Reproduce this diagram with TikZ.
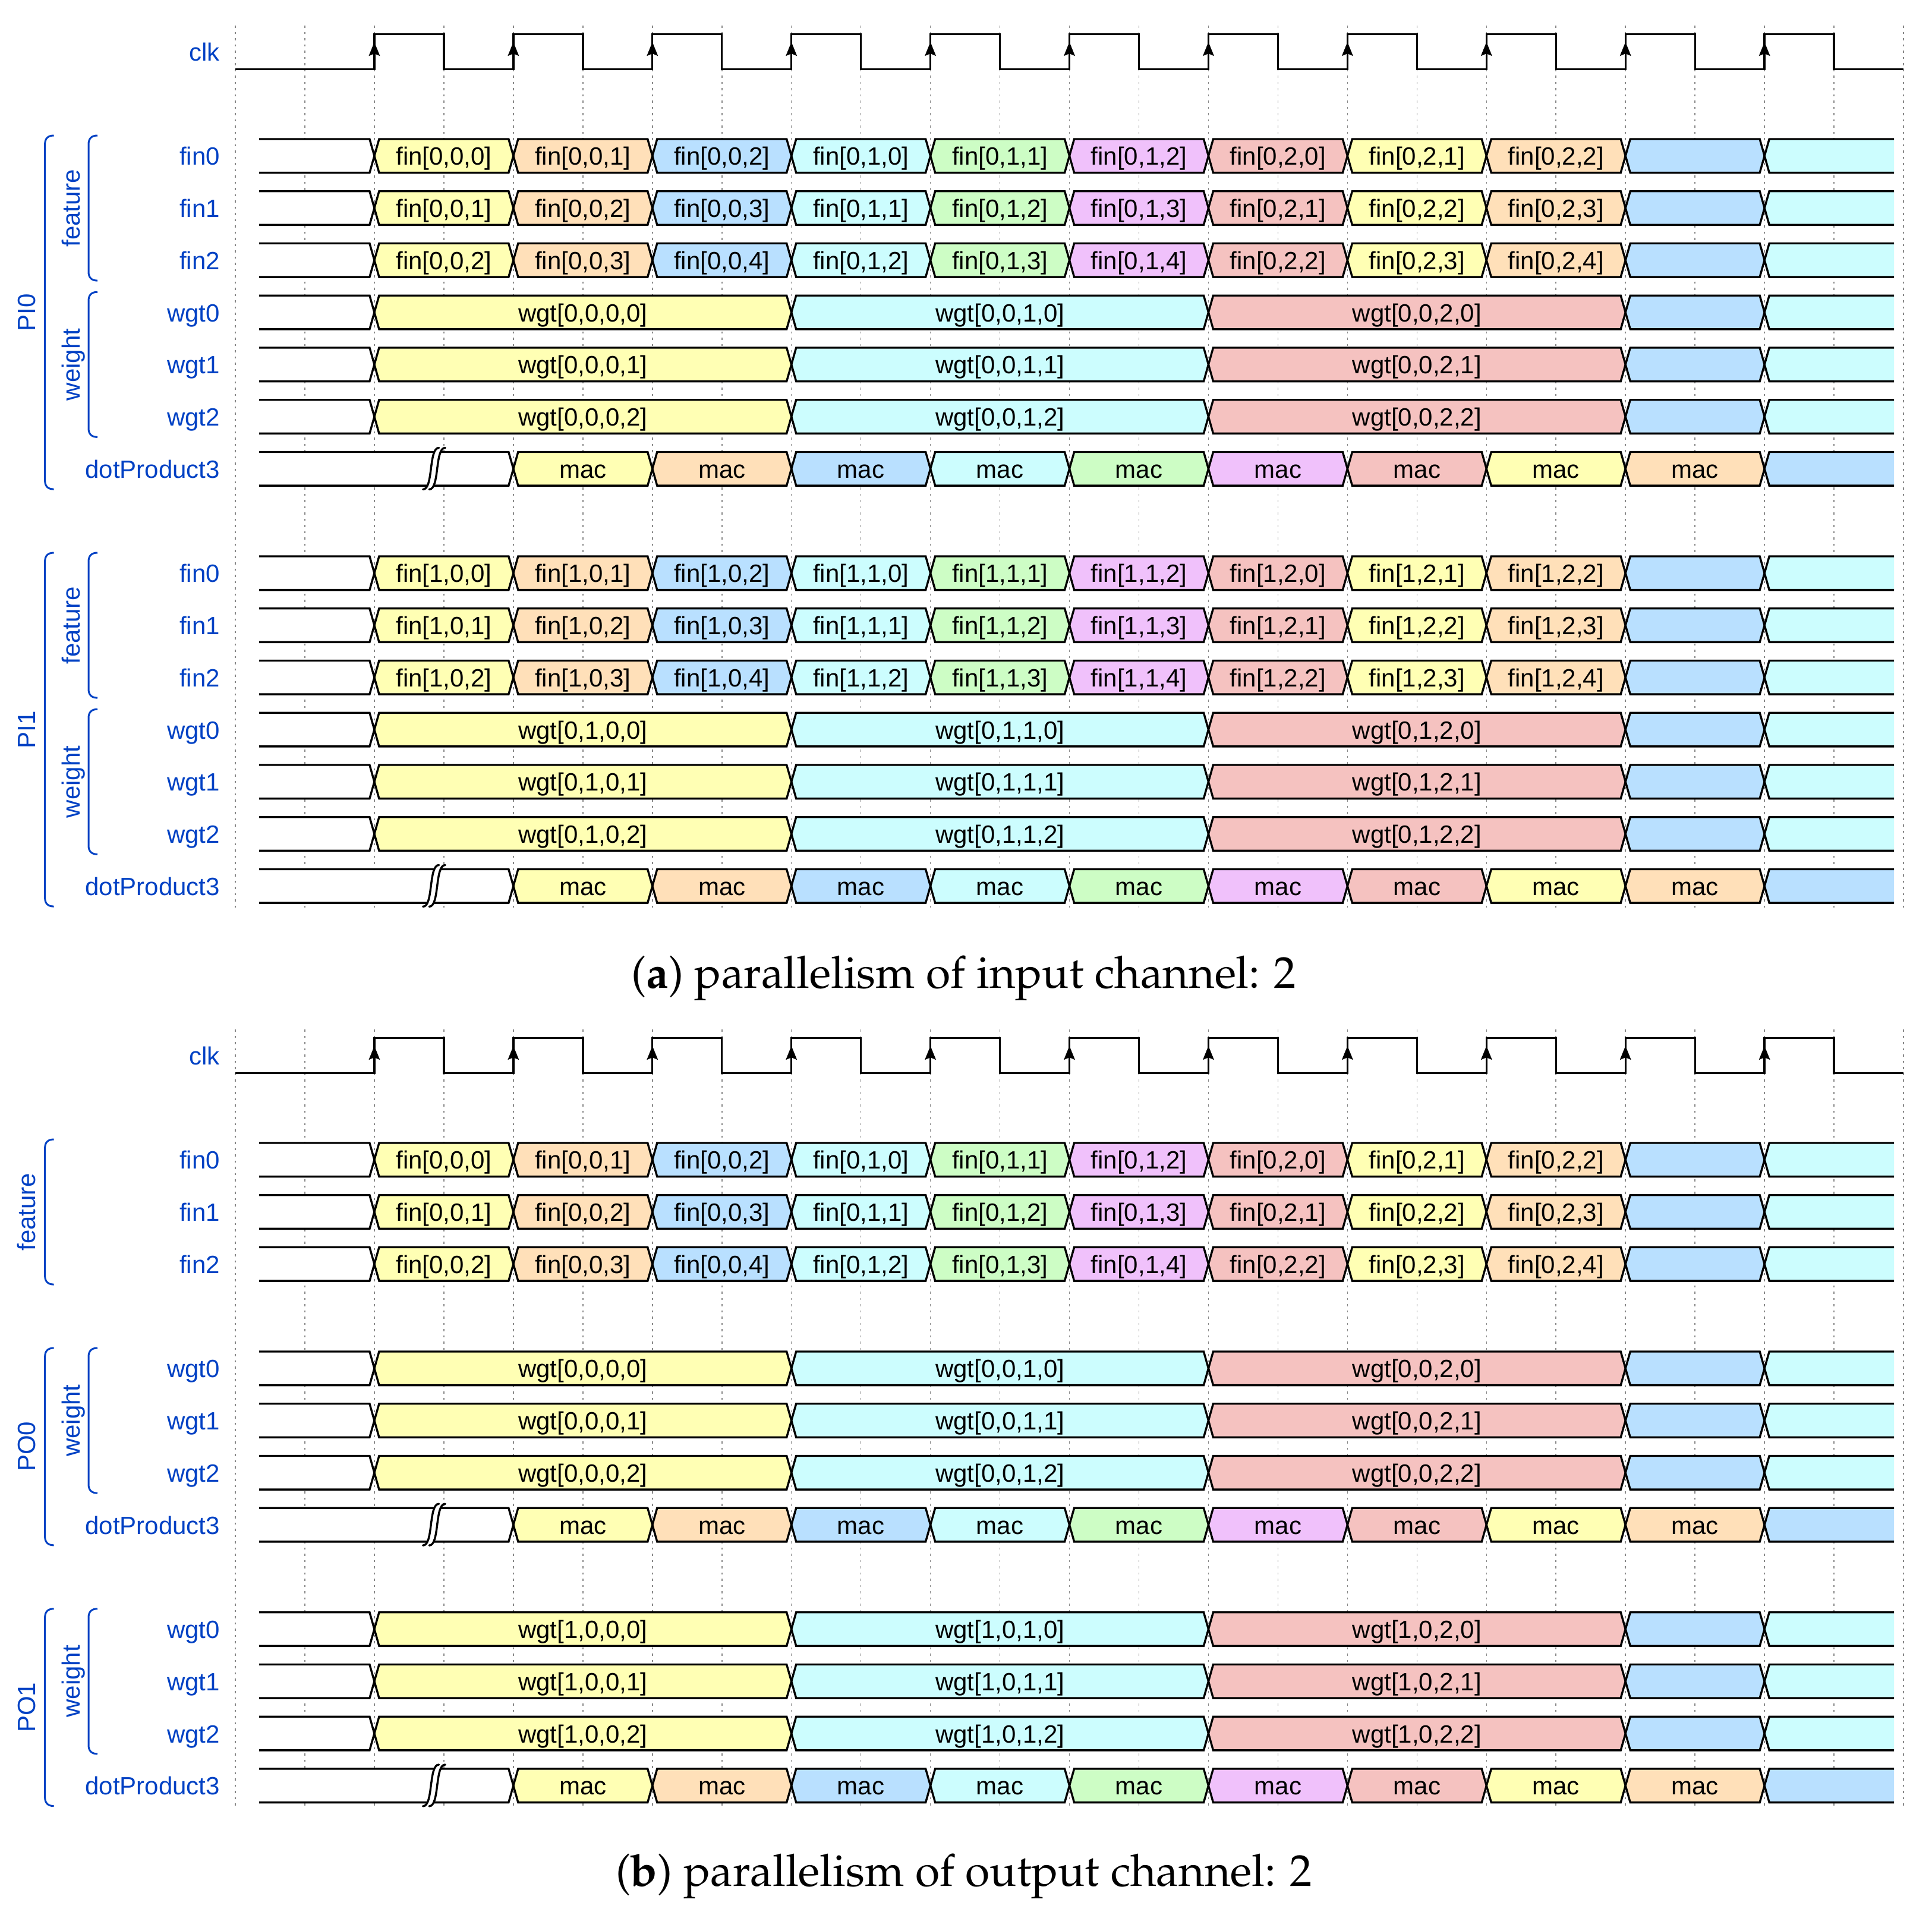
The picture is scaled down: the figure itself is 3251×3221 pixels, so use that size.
\documentclass[tikz,border=0pt]{standalone}
\usepackage[T1,TU]{fontenc}
\usepackage{fontspec}
\setmainfont{Liberation Sans}
\newfontfamily\wdfont{Liberation Sans}
\definecolor{wdY}{HTML}{FFFFB4}
\definecolor{wdO}{HTML}{FFE0B9}
\definecolor{wdB}{HTML}{B9E0FF}
\definecolor{wdC}{HTML}{CCFDFE}
\definecolor{wdG}{HTML}{CDFDC5}
\definecolor{wdP}{HTML}{F0C1FB}
\definecolor{wdR}{HTML}{F5C2C0}
\definecolor{wdblue}{HTML}{0041C4}
\definecolor{wdgrid}{HTML}{888888}
\pgfdeclarelayer{bglayer}
\pgfdeclarelayer{gridlayer}
\pgfdeclarelayer{filllayer}
\pgfsetlayers{bglayer,gridlayer,filllayer,main}
\newcommand\capfont{\fontencoding{T1}\fontfamily{ppl}\fontseries{m}\fontshape{n}\fontsize{75}{90}\selectfont}
\newcount\wdn
% data segment: kstart kend yc colour text
\newcommand\dseg[5]{%
  \pgfmathsetmacro\xs{396+116.96*(#1)}%
  \pgfmathsetmacro\xe{396+116.96*(#2)}%
  \pgfmathsetmacro\yt{#3-28.3}%
  \pgfmathsetmacro\yb{#3+28.3}%
  \begin{pgfonlayer}{filllayer}
  \fill[fill=#4] (\xs,#3) -- ({\xs+8},\yt) -- ({\xe-8},\yt) -- (\xe,#3) -- ({\xe-8},\yb) -- ({\xs+8},\yb) -- cycle;
  \end{pgfonlayer}
  \draw[sig] (\xs,#3) -- ({\xs+8},\yt) -- ({\xe-8},\yt) -- (\xe,#3) -- ({\xe-8},\yb) -- ({\xs+8},\yb) -- cycle;
  \global\advance\wdn by 1
  \node[dtext] (dt\the\wdn) at ({(\xs+\xe)/2},{#3+15.5}) {#5};
}
% first (empty) segment: kend yc
\newcommand\startseg[2]{%
  \pgfmathsetmacro\xe{396+116.96*(#1)}%
  \pgfmathsetmacro\yt{#2-28.3}%
  \pgfmathsetmacro\yb{#2+28.3}%
  \begin{pgfonlayer}{filllayer}
  \fill[white] (436,\yt) -- ({\xe-8},\yt) -- (\xe,#2) -- ({\xe-8},\yb) -- (436,\yb) -- cycle;
  \end{pgfonlayer}
  \draw[sig] (436,\yt) -- ({\xe-8},\yt) -- (\xe,#2) -- ({\xe-8},\yb) -- (436,\yb);
}
% last open segment: kstart yc colour
\newcommand\lastseg[3]{%
  \pgfmathsetmacro\xs{396+116.96*(#1)}%
  \pgfmathsetmacro\yt{#2-28.3}%
  \pgfmathsetmacro\yb{#2+28.3}%
  \begin{pgfonlayer}{filllayer}
  \fill[fill=#3] (\xs,#2) -- ({\xs+8},\yt) -- (3187,\yt) -- (3187,\yb) -- ({\xs+8},\yb) -- cycle;
  \end{pgfonlayer}
  \draw[sig] (3187,\yt) -- ({\xs+8},\yt) -- (\xs,#2) -- ({\xs+8},\yb) -- (3187,\yb);
}
% gap mark: yc
\newcommand\gapmark[1]{%
  \pgfmathsetmacro\gb{#1+34.6}%
  \pgfmathsetmacro\gm{#1-0.4}%
  \pgfmathsetmacro\gt{#1-35.4}%
  \pgfmathsetmacro\gq{#1+17.1}%
  \pgfmathsetmacro\gr{#1-17.9}%
  \fill[white] (711.7,\gb) .. controls (720.7,\gb) and (722.95,\gq) .. (725.2,\gm) .. controls (727.45,\gr) and (729.7,\gt) .. (738.7,\gt) -- (749.2,\gt) .. controls (740.2,\gt) and (737.95,\gr) .. (735.7,\gm) .. controls (733.45,\gq) and (731.2,\gb) .. (722.2,\gb) -- cycle;
  \draw[sig,line cap=round] (711.7,\gb) .. controls (720.7,\gb) and (722.95,\gq) .. (725.2,\gm) .. controls (727.45,\gr) and (729.7,\gt) .. (738.7,\gt);
  \draw[sig,line cap=round] (722.2,\gb) .. controls (731.2,\gb) and (733.45,\gq) .. (735.7,\gm) .. controls (737.95,\gr) and (740.2,\gt) .. (749.2,\gt);
}
% feature row: yc p j
\newcommand\finrow[3]{%
  \startseg{2}{#1}%
  \foreach \ii/\col in {0/wdY,1/wdO,2/wdB,3/wdC,4/wdG,5/wdP,6/wdR,7/wdY,8/wdO}{%
    \pgfmathtruncatemacro\rw{int(\ii/3)}%
    \pgfmathtruncatemacro\cl{mod(\ii,3)+#3}%
    \pgfmathtruncatemacro\ka{2+2*\ii}%
    \pgfmathtruncatemacro\kb{4+2*\ii}%
    \dseg{\ka}{\kb}{#1}{\col}{fin[#2,\rw,\cl]}%
  }%
  \dseg{20}{22}{#1}{wdB}{}%
  \lastseg{22}{#1}{wdC}%
}
% weight row: yc prefix j
\newcommand\wgtrow[3]{%
  \startseg{2}{#1}%
  \dseg{2}{8}{#1}{wdY}{wgt[#2,0,#3]}%
  \dseg{8}{14}{#1}{wdC}{wgt[#2,1,#3]}%
  \dseg{14}{20}{#1}{wdR}{wgt[#2,2,#3]}%
  \dseg{20}{22}{#1}{wdB}{}%
  \lastseg{22}{#1}{wdC}%
}
% dot product row: yc
\newcommand\dotrow[1]{%
  \startseg{4}{#1}%
  \gapmark{#1}%
  \foreach \ii/\col in {0/wdY,1/wdO,2/wdB,3/wdC,4/wdG,5/wdP,6/wdR,7/wdY,8/wdO}{%
    \pgfmathtruncatemacro\ka{4+2*\ii}%
    \pgfmathtruncatemacro\kb{6+2*\ii}%
    \dseg{\ka}{\kb}{#1}{\col}{mac}%
  }%
  \lastseg{22}{#1}{wdB}%
}
% clock: ymid
\newcommand\clockrow[1]{%
  \pgfmathsetmacro\yl{#1+29.5}%
  \pgfmathsetmacro\yh{#1-29.5}%
  \draw[sig] (396,\yl) \foreach \p in {1,...,11}{ -- ({396+233.92*\p},\yl) -- ({396+233.92*\p},\yh) -- ({512.96+233.92*\p},\yh) -- ({512.96+233.92*\p},\yl)} -- (3203,\yl);
  \foreach \p in {1,...,11}{\fill ({396+233.92*\p},{#1-16.5}) -- ++(9.5,23.5) -- ++(-9.5,-4) -- ++(-9.5,4) -- cycle;}
}
% group brace: x ytop ybot
\newcommand\gbrace[3]{%
  \draw[grp] ({#1+15},#2) .. controls ({#1+5},#2) and (#1,{#2+5}) .. (#1,{#2+15}) -- (#1,{#3-15}) .. controls (#1,{#3-5}) and ({#1+5},#3) .. ({#1+15},#3);
}
% signal name: yc text
\newcommand\sname[2]{%
  \global\advance\wdn by 1
  \node[ltext] (sn\the\wdn) at (370,{#1+15.5}) {#2};
}
\newcommand\gname[3]{%
  \global\advance\wdn by 1
  \node[rtext] (gn\the\wdn) at (#1,#2) {#3};
}
\begin{document}
\begin{tikzpicture}[x=1pt,y=-1pt,
  sig/.style={line width=3.4pt, draw=black, line join=miter},
  gridline/.style={draw=wdgrid, line width=1.6pt, dash pattern=on 3.5pt off 7pt},
  grp/.style={draw=wdblue, line width=3pt},
  dtext/.style={font=\wdfont\fontsize{42}{50}\selectfont, text=black, inner sep=0pt, anchor=base},
  ltext/.style={font=\wdfont\fontsize{42}{50}\selectfont, text=wdblue, inner sep=0pt, anchor=base east},
  rtext/.style={font=\wdfont\fontsize{42}{50}\selectfont, text=wdblue, inner sep=0pt, anchor=base, rotate=90},
  captext/.style={font=\capfont, text=black, inner sep=0pt, anchor=base}]
\useasboundingbox (0,0) rectangle (3251,3221);
\begin{pgfonlayer}{bglayer}
\fill[white] (0,0) rectangle (3251,3221);
\end{pgfonlayer}
\begin{pgfonlayer}{gridlayer}
\foreach \k in {0,...,24}{
  \draw[gridline] ({396+116.96*\k},43) -- ({396+116.96*\k},1528);
  \draw[gridline] ({396+116.96*\k},1732) -- ({396+116.96*\k},3041);
}
\end{pgfonlayer}
% ---------------- (a) ----------------
\clockrow{87.2}
\sname{87.2}{clk}
% PI0
\finrow{262.3}{0}{0}\sname{262.3}{fin0}
\finrow{350.05}{0}{1}\sname{350.05}{fin1}
\finrow{437.8}{0}{2}\sname{437.8}{fin2}
\wgtrow{525.55}{0,0}{0}\sname{525.55}{wgt0}
\wgtrow{613.3}{0,0}{1}\sname{613.3}{wgt1}
\wgtrow{701.05}{0,0}{2}\sname{701.05}{wgt2}
\dotrow{788.8}\sname{788.8}{dotProduct3}
\gbrace{75.6}{228}{823.1}
\gbrace{149}{228}{472.1}
\gbrace{149}{491.25}{735.35}
\gname{59.7}{525.55}{PI0}
\gname{134}{350.05}{feature}
\gname{134}{613.3}{weight}
% PI1
\finrow{964.3}{1}{0}\sname{964.3}{fin0}
\finrow{1052.05}{1}{1}\sname{1052.05}{fin1}
\finrow{1139.8}{1}{2}\sname{1139.8}{fin2}
\wgtrow{1227.55}{0,1}{0}\sname{1227.55}{wgt0}
\wgtrow{1315.3}{0,1}{1}\sname{1315.3}{wgt1}
\wgtrow{1403.05}{0,1}{2}\sname{1403.05}{wgt2}
\dotrow{1490.8}\sname{1490.8}{dotProduct3}
\gbrace{75.6}{930}{1525.1}
\gbrace{149}{930}{1174.1}
\gbrace{149}{1193.25}{1437.35}
\gname{59.7}{1227.55}{PI1}
\gname{134}{1052.05}{feature}
\gname{134}{1315.3}{weight}
\node[captext] (capa) at (1622,1662) {(\textbf{a}) parallelism of input channel: 2};
% ---------------- (b) ----------------
\clockrow{1776.2}
\sname{1776.2}{clk}
\finrow{1951.3}{0}{0}\sname{1951.3}{fin0}
\finrow{2039.05}{0}{1}\sname{2039.05}{fin1}
\finrow{2126.8}{0}{2}\sname{2126.8}{fin2}
\gbrace{75.6}{1917}{2161.1}
\gname{59.7}{2039.05}{feature}
% PO0
\wgtrow{2302.3}{0,0}{0}\sname{2302.3}{wgt0}
\wgtrow{2390.05}{0,0}{1}\sname{2390.05}{wgt1}
\wgtrow{2477.8}{0,0}{2}\sname{2477.8}{wgt2}
\dotrow{2565.55}\sname{2565.55}{dotProduct3}
\gbrace{75.6}{2268}{2599.85}
\gbrace{149}{2268}{2512.1}
\gname{59.7}{2433.9}{PO0}
\gname{134}{2390.05}{weight}
% PO1
\wgtrow{2741.05}{1,0}{0}\sname{2741.05}{wgt0}
\wgtrow{2828.8}{1,0}{1}\sname{2828.8}{wgt1}
\wgtrow{2916.55}{1,0}{2}\sname{2916.55}{wgt2}
\dotrow{3004.3}\sname{3004.3}{dotProduct3}
\gbrace{75.6}{2706.75}{3038.6}
\gbrace{149}{2706.75}{2950.85}
\gname{59.7}{2872.7}{PO1}
\gname{134}{2828.8}{weight}
\node[captext] (capb) at (1622,3173) {(\textbf{b}) parallelism of output channel: 2};
\end{tikzpicture}
\end{document}
